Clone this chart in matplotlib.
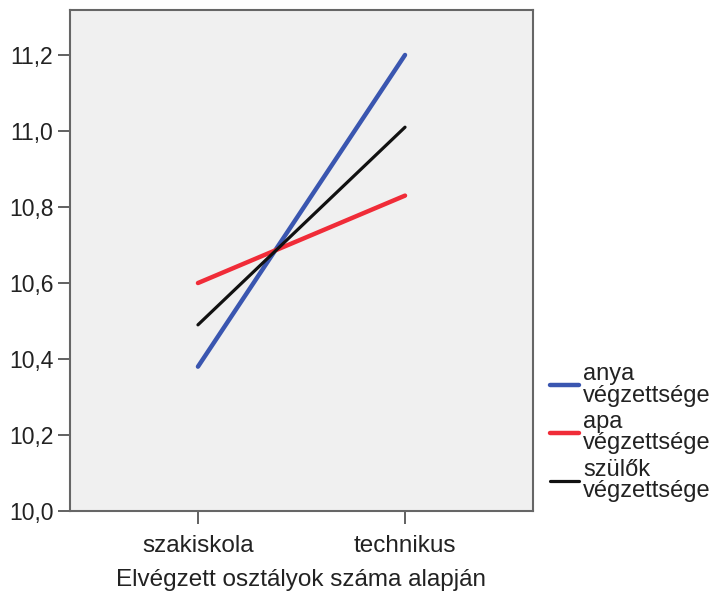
import matplotlib
matplotlib.use('Agg')
import matplotlib.pyplot as plt

# adatok
kategoriak = ['szakiskola', 'technikus']
anya = [10.38, 11.20]
apa = [10.60, 10.83]
szulok = [10.49, 11.01]
cimkek = ['anya\nvégzettsége', 'apa\nvégzettsége', 'szülők\nvégzettsége']
y_ticks = [10.0, 10.2, 10.4, 10.6, 10.8, 11.0, 11.2]
y_tick_labels = ['10,0', '10,2', '10,4', '10,6', '10,8', '11,0', '11,2']

plt.rcParams['font.family'] = ['Liberation Sans', 'DejaVu Sans']

fig = plt.figure(figsize=(7.14, 5.95), dpi=100)
ax = fig.add_axes([0.098, 0.141, 0.6485, 0.842])
ax.set_facecolor('#f0f0f0')

x = range(len(kategoriak))
ax.plot(x, anya, color='#3a56b0', lw=3.2, label=cimkek[0], solid_capstyle='round')
ax.plot(x, apa, color='#f02c38', lw=3.2, label=cimkek[1], solid_capstyle='round')
ax.plot(x, szulok, color='#111111', lw=2.3, label=cimkek[2], solid_capstyle='round')

ax.set_xlim(-0.618, 1.618)
ax.set_ylim(10.0, 11.318)
ax.set_xticks(list(x))
ax.set_xticklabels(kategoriak, fontsize=17.5, color='#222222')
ax.set_yticks(y_ticks)
ax.set_yticklabels(y_tick_labels, fontsize=16.5, color='#222222')
ax.tick_params(axis='both', direction='out', length=9, width=1.3, color='#555555')
ax.tick_params(axis='x', pad=8)
ax.tick_params(axis='y', pad=3)
ax.set_xlabel('Elvégzett osztályok száma alapján', fontsize=17.5, color='#222222', labelpad=9)

for s in ax.spines.values():
    s.set_color('#666666')
    s.set_linewidth(1.5)

leg = fig.legend(loc='upper left', bbox_to_anchor=(0.757, 0.405), frameon=False,
                 fontsize=17, handlelength=1.25, handletextpad=0.15, labelspacing=0.2,
                 borderaxespad=0)
for t in leg.get_texts():
    t.set_linespacing(0.95)
    t.set_color('#222222')

fig.savefig('out.png', dpi=100)
